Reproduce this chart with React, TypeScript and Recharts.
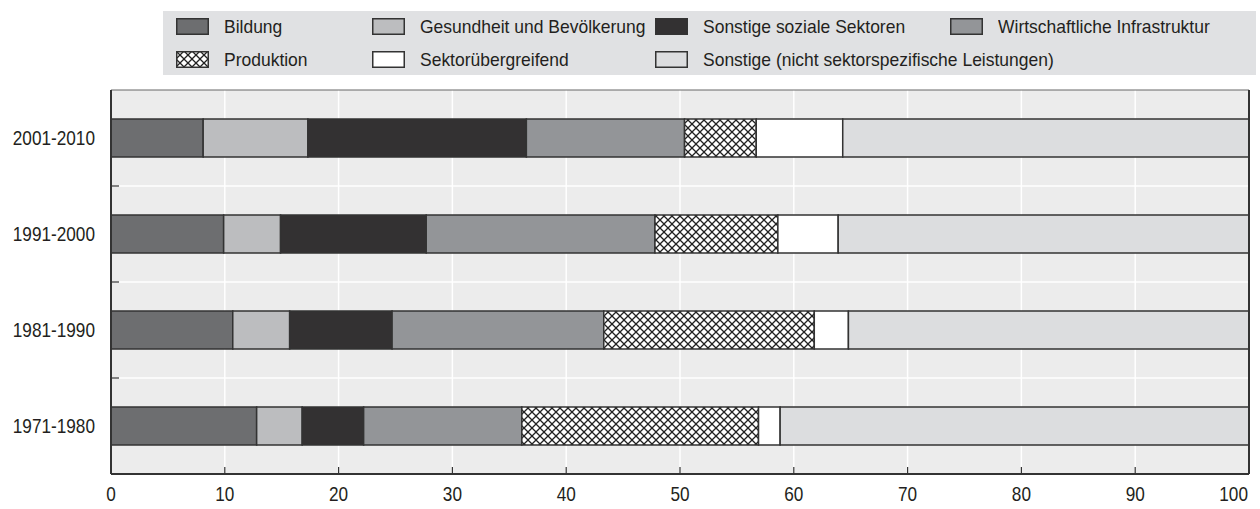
import { BarChart, Bar, XAxis, YAxis, CartesianGrid } from "recharts";

const periods = ["2001-2010", "1991-2000", "1981-1990", "1971-1980"];
const bildung = [8.1, 9.9, 10.7, 12.8];
const gesundheit = [9.2, 5.0, 5.0, 4.0];
const sozial = [19.2, 12.8, 9.0, 5.4];
const infrastruktur = [13.9, 20.1, 18.6, 13.9];
const produktion = [6.3, 10.8, 18.5, 20.8];
const uebergreifend = [7.6, 5.3, 3.0, 1.9];
const sonstige = [35.7, 36.1, 35.2, 41.2];
const xTicks = [0, 10, 20, 30, 40, 50, 60, 70, 80, 90, 100];

const FONT = '"Liberation Sans", Arial, sans-serif';
const TEXT = "#231f20";

const series = [
  { key: "bildung", name: "Bildung", fill: "#6d6e70" },
  { key: "gesundheit", name: "Gesundheit und Bevölkerung", fill: "#bcbdbf" },
  { key: "sozial", name: "Sonstige soziale Sektoren", fill: "#333132" },
  { key: "infrastruktur", name: "Wirtschaftliche Infrastruktur", fill: "#939598" },
  { key: "produktion", name: "Produktion", fill: "url(#hatch)" },
  { key: "uebergreifend", name: "Sektorübergreifend", fill: "#ffffff" },
  { key: "sonstige", name: "Sonstige (nicht sektorspezifische Leistungen)", fill: "#dcdddf" },
];

const data = periods.map((period, i) => ({
  period,
  bildung: bildung[i],
  gesundheit: gesundheit[i],
  sozial: sozial[i],
  infrastruktur: infrastruktur[i],
  produktion: produktion[i],
  uebergreifend: uebergreifend[i],
  sonstige: sonstige[i],
}));

// legend: two rows, four columns
const legendRows = [
  ["bildung", "gesundheit", "sozial", "infrastruktur"],
  ["produktion", "uebergreifend", "sonstige"],
];
const colLeft = [176, 372, 655, 950];
const rowTop = [18, 51];

const HatchPattern = ({ id }: { id: string }) => (
  <pattern id={id} patternUnits="userSpaceOnUse" width={8} height={8}>
    <rect width={8} height={8} fill="#fff" />
    <path d="M0,8 L8,0 M-1,1 L1,-1 M7,9 L9,7" stroke="#222" strokeWidth={1.3} />
    <path d="M0,0 L8,8 M-1,7 L1,9 M7,-1 L9,1" stroke="#222" strokeWidth={1.3} />
  </pattern>
);

const Swatch = ({ fill }: { fill: string }) => (
  <svg width={33} height={17} style={{ display: "block", flex: "none" }}>
    <defs>
      <HatchPattern id="hatchLegend" />
    </defs>
    <rect
      x={0.75}
      y={0.75}
      width={31.5}
      height={15.5}
      fill={fill === "url(#hatch)" ? "url(#hatchLegend)" : fill}
      stroke="#333"
      strokeWidth={1.5}
    />
  </svg>
);

const LegendBox = () => (
  <div
    style={{
      position: "absolute",
      left: 163,
      top: 11,
      width: 1093,
      height: 64,
      background: "#e0e1e3",
    }}
  >
    {legendRows.map((row, r) =>
      row.map((key, c) => {
        const s = series.find((x) => x.key === key)!;
        return (
          <div
            key={key}
            style={{
              position: "absolute",
              left: colLeft[c] - 163,
              top: rowTop[r] - 11,
              display: "flex",
              alignItems: "center",
              gap: 15,
              fontFamily: FONT,
              fontSize: 19,
              color: TEXT,
              whiteSpace: "nowrap",
              lineHeight: "17px",
            }}
          >
            <Swatch fill={s.fill} />
            <span style={{ display: "inline-block", transform: "scaleX(0.92)", transformOrigin: "left center" }}>
              {s.name}
            </span>
          </div>
        );
      })
    )}
  </div>
);

// narrow tick labels, like the condensed face of the original
const XTick = ({ x, y, payload, index }: any) => {
  const last = index === xTicks.length - 1;
  return (
    <text
      transform={`translate(${x},${y}) scale(0.86,1)`}
      textAnchor={last ? "end" : "middle"}
      dy="0.71em"
      fill={TEXT}
      fontSize={20}
      fontFamily={FONT}
    >
      {payload.value}
    </text>
  );
};

const YTick = ({ x, y, payload }: any) => (
  <text
    transform={`translate(${x},${y}) scale(0.86,1)`}
    textAnchor="end"
    dy="0.355em"
    fill={TEXT}
    fontSize={20}
    fontFamily={FONT}
  >
    {payload.value}
  </text>
);

const bandLines = ({ offset }: any) =>
  periods.slice(1).map((_, i) => offset.top + (offset.height * (i + 1)) / periods.length);

const App = () => {
  return (
    <div style={{ position: "absolute", left: 0, top: 0, width: 1260, height: 509, background: "#fff" }}>
      <LegendBox />
      <BarChart
        width={1260}
        height={509}
        data={data}
        layout="vertical"
        margin={{ top: 89, right: 10, bottom: 5, left: 0 }}
      >
        <defs>
          <HatchPattern id="hatch" />
        </defs>
        <CartesianGrid
          fill="#ececec"
          stroke="#ffffff"
          strokeWidth={1.5}
          horizontalCoordinatesGenerator={bandLines}
        />
        {/* short inward tick marks at the category boundaries */}
        <CartesianGrid
          vertical={false}
          fill="none"
          stroke="#333"
          strokeWidth={1.2}
          strokeDasharray="8 3000"
          horizontalCoordinatesGenerator={bandLines}
        />
        <XAxis
          type="number"
          domain={[0, 100]}
          ticks={xTicks}
          height={30}
          axisLine={{ stroke: "#333", strokeWidth: 2 }}
          tickLine={{ stroke: "#333", strokeWidth: 1.2 }}
          tickSize={-7}
          tickMargin={20}
          tick={<XTick />}
        />
        <XAxis
          xAxisId="top"
          orientation="top"
          type="number"
          domain={[0, 100]}
          height={1}
          tick={false}
          tickLine={false}
          axisLine={{ stroke: "#666", strokeWidth: 1 }}
        />
        <YAxis
          type="category"
          dataKey="period"
          width={111}
          axisLine={{ stroke: "#333", strokeWidth: 2 }}
          tickLine={false}
          tickMargin={10}
          tick={<YTick />}
        />
        <YAxis
          yAxisId="right"
          orientation="right"
          type="number"
          domain={[0, 4]}
          width={1}
          tick={false}
          tickLine={false}
          axisLine={{ stroke: "#333", strokeWidth: 2 }}
        />
        {series.map((s) => (
          <Bar
            key={s.key}
            dataKey={s.key}
            name={s.name}
            stackId="a"
            fill={s.fill}
            stroke="#333"
            strokeWidth={1.5}
            barSize={38}
            isAnimationActive={false}
          />
        ))}
      </BarChart>
    </div>
  );
};

export default App;
